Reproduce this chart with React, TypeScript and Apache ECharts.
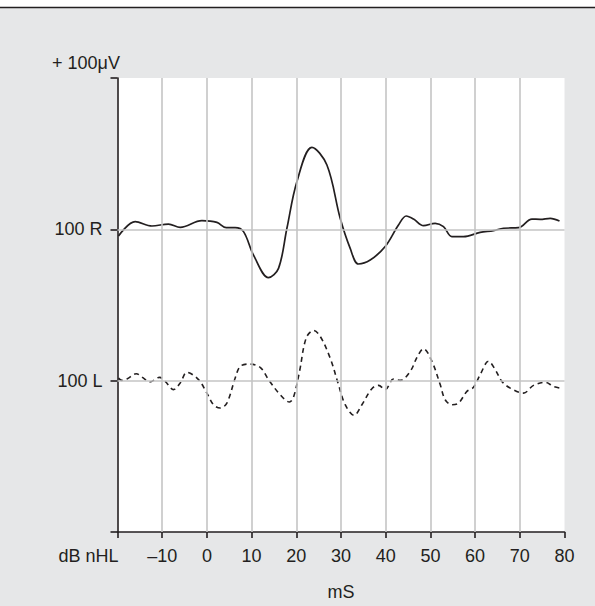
import React, { useEffect, useRef } from "react";
import * as echarts from "echarts";

// x positions (mS), y values (axis units: L baseline = 1, R baseline = 2)
const rightX = [-19.78, -16.04, -12.3, -8.59, -5.97, -1.12, 2.24, 4.32, 6.33, 8.19, 10.43, 13.78, 16.02, 17.9, 20.13, 23.49, 26.85, 29.82, 32.06, 33.91, 36.53, 39.89, 42.86, 44.59, 46.22, 48.46, 51.07, 52.93, 54.81, 57.4, 61.14, 64.12, 66.35, 69.71, 72.71, 74.56, 76.8, 78.88];
const rightY = [1.956, 2.051, 2.022, 2.035, 2.013, 2.057, 2.046, 2.011, 2.011, 1.985, 1.83, 1.681, 1.742, 2.007, 2.315, 2.542, 2.425, 2.073, 1.874, 1.771, 1.797, 1.886, 2.028, 2.088, 2.068, 2.024, 2.04, 2.018, 1.952, 1.952, 1.98, 1.991, 2.007, 2.011, 2.068, 2.066, 2.073, 2.055];

const leftX = [-19.78, -19.02, -17.9, -15.82, -14.18, -12.84, -10.6, -9.33, -7.47, -5.97, -4.47, -1.88, 0.0, 1.48, 2.98, 4.47, 6.33, 7.45, 9.31, 11.92, 13.78, 16.4, 18.48, 19.37, 20.72, 22.21, 23.85, 25.35, 27.58, 29.44, 30.94, 32.95, 34.68, 36.91, 38.39, 39.89, 41.74, 43.24, 45.48, 47.11, 48.46, 50.34, 52.19, 53.31, 54.81, 56.29, 58.17, 59.64, 61.14, 63.0, 64.5, 66.0, 67.85, 70.83, 73.06, 75.68, 77.54, 79.04];
const leftY = [1.017, 1.002, 1.011, 1.046, 1.017, 0.991, 1.022, 0.995, 0.941, 0.984, 1.055, 1.007, 0.918, 0.841, 0.819, 0.852, 1.017, 1.094, 1.11, 1.088, 1.007, 0.907, 0.859, 0.89, 1.061, 1.282, 1.332, 1.293, 1.149, 0.974, 0.841, 0.771, 0.841, 0.947, 0.969, 0.941, 1.011, 1.002, 1.061, 1.161, 1.211, 1.128, 0.974, 0.874, 0.841, 0.852, 0.929, 0.956, 1.04, 1.128, 1.073, 0.995, 0.951, 0.918, 0.969, 0.989, 0.962, 0.951];

const xTickLabels: Record<number, string> = {
  [-20]: "dB nHL", [-10]: "\u201310", 0: "0", 10: "10", 20: "20", 30: "30",
  40: "40", 50: "50", 60: "60", 70: "70", 80: "80",
};
const yTickLabels: Record<number, string> = { 0: "", 1: "100 L", 2: "100 R", 3: "" };
const verticalGrid = [-10, 0, 10, 20, 30, 40, 50, 60, 70];
const horizontalGrid = [1, 2];
const scaleLabel = "+ 100\u03bcV";
const xName = "mS";

const TEXT = "#231f20";
const FONT = "Liberation Sans, Arial, sans-serif";

export default function App() {
  const ref = useRef<HTMLDivElement>(null);
  useEffect(() => {
    document.body.style.margin = "0";
    const chart = echarts.init(ref.current!, null, { renderer: "svg" });
    const pair = (xs: number[], ys: number[]) => xs.map((x, i) => [x, ys[i]]);
    chart.setOption({
      animation: false,
      backgroundColor: "#e6e7e8",
      textStyle: { fontFamily: FONT },
      grid: {
        left: 117.5, right: 30.5, top: 78, bottom: 74,
        show: true, backgroundColor: "#ffffff", borderWidth: 0,
      },
      xAxis: {
        type: "value", min: -20, max: 80, interval: 10,
        name: xName, nameLocation: "middle", nameGap: 51,
        nameTextStyle: { color: TEXT, fontSize: 18, fontFamily: FONT },
        axisLine: { onZero: false, lineStyle: { color: "#231f20", width: 1.6 } },
        axisTick: { length: 6, lineStyle: { color: "#231f20", width: 1.6 } },
        splitLine: { show: false },
        axisLabel: {
          color: TEXT, fontSize: 18, fontFamily: FONT, margin: 15,
          showMinLabel: true, showMaxLabel: true,
          formatter: (v: number) =>
            v === -20 ? "{a|" + xTickLabels[v] + "}" : xTickLabels[v] ?? "",
          rich: { a: { color: TEXT, fontSize: 18, fontFamily: FONT, padding: [0, 58, 0, 0] } },
        },
      },
      yAxis: {
        type: "value", min: 0, max: 3, interval: 1,
        axisLine: { show: true, onZero: false, lineStyle: { color: "#231f20", width: 1.6 } },
        axisTick: { show: true, length: 7, lineStyle: { color: "#231f20", width: 1.6 } },
        splitLine: { show: false },
        axisLabel: {
          color: TEXT, fontSize: 18, fontFamily: FONT, margin: 15,
          showMinLabel: true, showMaxLabel: true,
          formatter: (v: number) => yTickLabels[v] ?? "",
        },
      },
      graphic: [
        { type: "rect", shape: { x: 0, y: 0, width: 595, height: 7 }, style: { fill: "#ffffff" }, silent: true },
        { type: "line", shape: { x1: 0, y1: 7.5, x2: 595, y2: 7.5 }, style: { stroke: "#231f20", lineWidth: 1.5 }, silent: true },
        {
          type: "text", x: 52, y: 72, silent: true,
          style: { text: scaleLabel, fill: TEXT, fontSize: 18, fontFamily: FONT, textVerticalAlign: "bottom", verticalAlign: "bottom" },
        },
      ],
      series: [
        {
          type: "line", z: 1, silent: true, data: [[-20, 0]], showSymbol: false,
          lineStyle: { width: 0, opacity: 0 },
          markLine: {
            silent: true, symbol: ["none", "none"], label: { show: false },
            lineStyle: { color: "#c5c5c5", width: 1.6, type: "solid" },
            emphasis: { disabled: true },
            data: [
              ...verticalGrid.map((x) => ({ xAxis: x })),
              ...horizontalGrid.map((y) => ({ yAxis: y })),
            ],
          },
        },
        {
          name: "R", type: "line", z: 3, data: pair(rightX, rightY), smooth: 0.35,
          showSymbol: false, lineStyle: { color: "#231f20", width: 1.7 },
        },
        {
          name: "L", type: "line", z: 3, data: pair(leftX, leftY), smooth: 0.35,
          showSymbol: false, lineStyle: { color: "#231f20", width: 1.6, type: [5, 4] },
        },
      ],
    });
    return () => chart.dispose();
  }, []);
  return <div ref={ref} style={{ width: 595, height: 606 }} />;
}
